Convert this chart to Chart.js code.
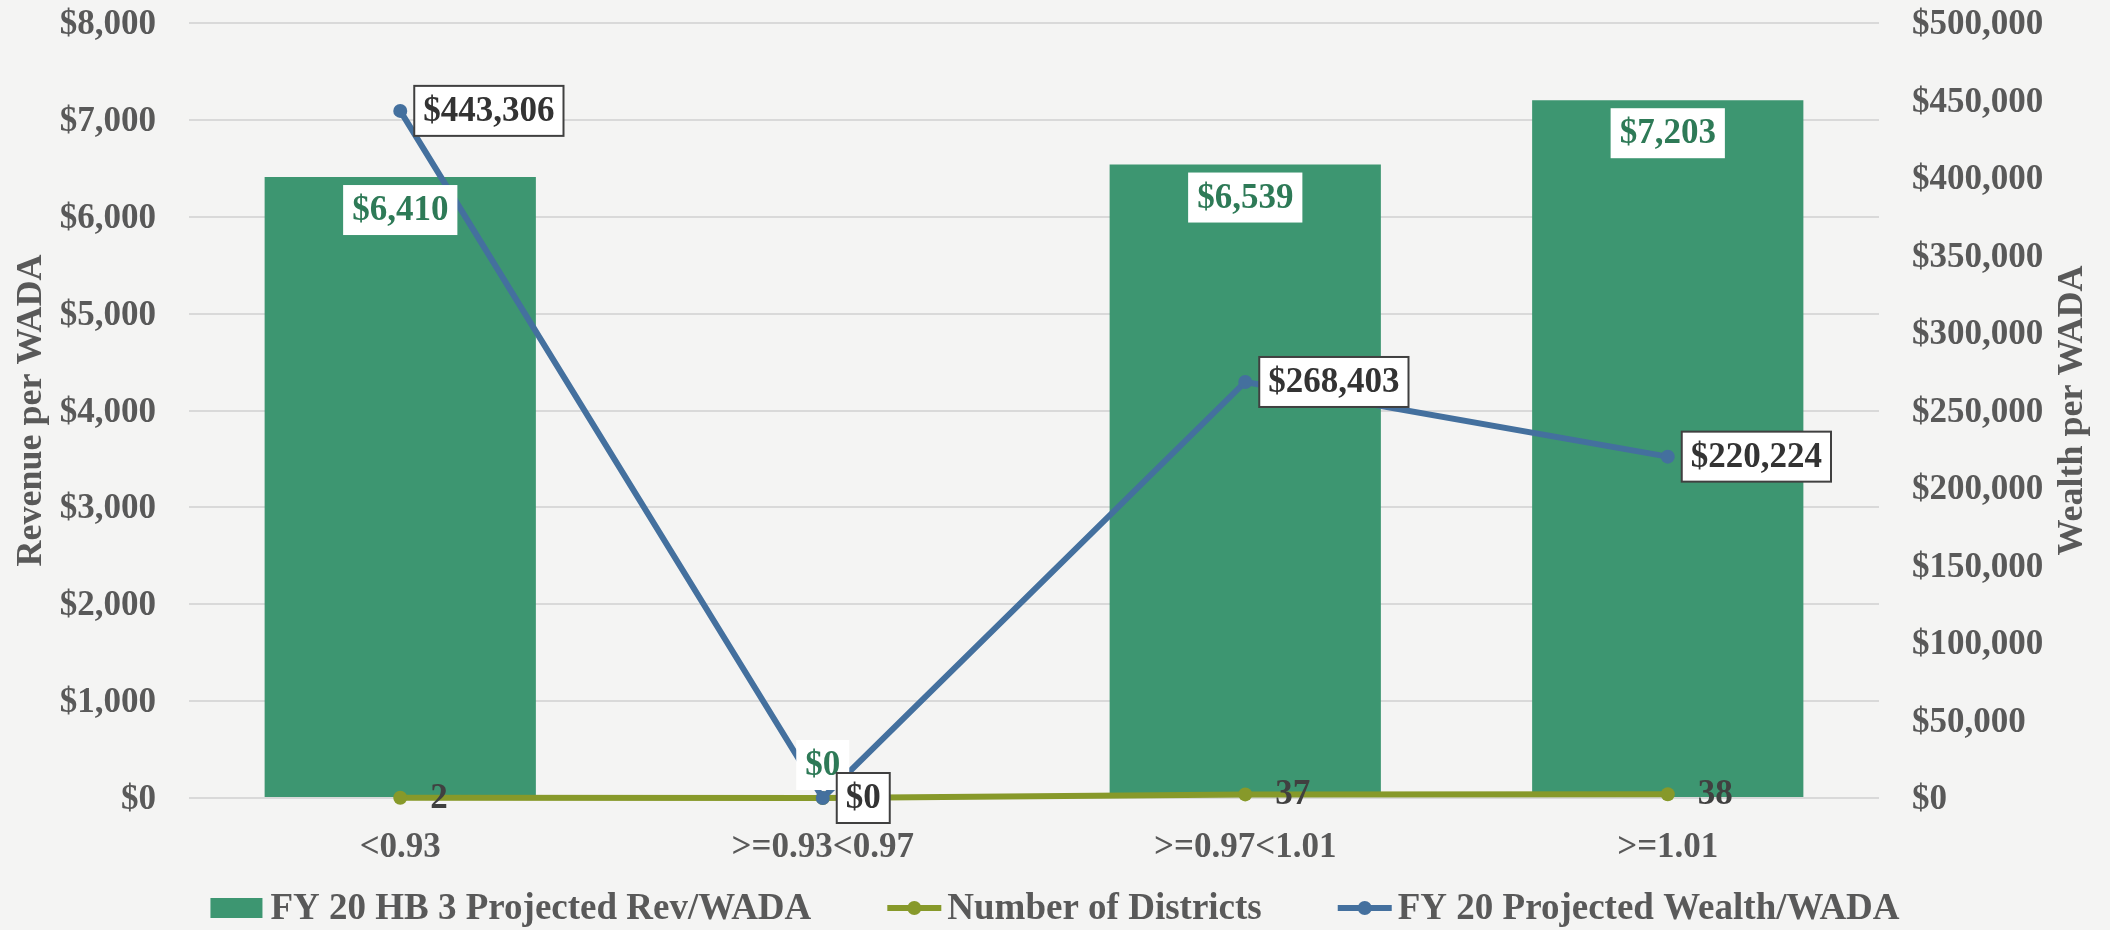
<!DOCTYPE html>
<html>
<head>
<meta charset="utf-8">
<script src="https://cdn.jsdelivr.net/npm/chart.js@4.4.0/dist/chart.umd.min.js"></script>
<style>
  html, body { margin: 0; padding: 0; background: #f4f4f3; }
  #wrap { width: 2110px; height: 930px; position: relative; }
</style>
</head>
<body>
<div id="wrap"><canvas id="chart"></canvas></div>
<script>
// ---------------- Datos ----------------
const categories = ['<0.93', '>=0.93<0.97', '>=0.97<1.01', '>=1.01'];
const revPerWada = [6410, 0, 6539, 7203];
const districtCounts = [2, 0, 37, 38];
const wealthPerWada = [443306, 0, 268403, 220224];

const revAxis = { min: 0, max: 8000, step: 1000, title: 'Revenue per WADA' };
const wealthAxis = { min: 0, max: 500000, step: 50000, title: 'Wealth per WADA' };

const seriesNames = ['FY 20 HB 3 Projected Rev/WADA', 'Number of Districts', 'FY 20 Projected Wealth/WADA'];
const seriesColors = ['#3d9671', '#87992a', '#44709e'];

// ---------------- Estilos ----------------
const FONT = "'Liberation Serif', 'Times New Roman', serif";
const GREY = '#595959';
const money = v => '$' + Number(v).toLocaleString('en-US');

// ---------------- Etiquetas de valores ----------------
const valueLabels = {
    id: 'valueLabels',
    afterDatasetsDraw(chart) {
        const ctx = chart.ctx;
        const base = chart.scales.y.getPixelForValue(0);
        ctx.save();
        ctx.font = `bold 35px ${FONT}`;
        ctx.textBaseline = 'middle';
        ctx.textAlign = 'left';

        // barras: cuadro blanco dentro del extremo
        chart.getDatasetMeta(0).data.forEach((bar, i) => {
            const txt = money(revPerWada[i]);
            const w = ctx.measureText(txt).width + 18, h = 50;
            let top = bar.y + 8;
            if (base - bar.y < h + 16) top = base - 33 - h / 2;
            ctx.fillStyle = '#ffffff';
            ctx.fillRect(bar.x - w / 2, top, w, h);
            ctx.fillStyle = '#2e7a57';
            ctx.fillText(txt, bar.x - w / 2 + 9, top + h / 2 + 1);
        });

        // número de distritos: texto a la derecha
        chart.getDatasetMeta(1).data.forEach((pt, i) => {
            ctx.fillStyle = '#404040';
            ctx.fillText(String(districtCounts[i]), pt.x + 30, pt.y + 1);
        });

        // riqueza: cuadro con borde
        chart.getDatasetMeta(2).data.forEach((pt, i) => {
            const txt = money(wealthPerWada[i]);
            const w = ctx.measureText(txt).width + 18, h = 50;
            const left = pt.x + 14, top = pt.y - h / 2;
            ctx.fillStyle = '#ffffff';
            ctx.fillRect(left, top, w, h);
            ctx.strokeStyle = '#404040';
            ctx.lineWidth = 2;
            ctx.strokeRect(left, top, w, h);
            ctx.fillStyle = '#333333';
            ctx.fillText(txt, left + 9, pt.y + 1);
        });
        ctx.restore();
    },
    afterDraw(chart) {
        const ctx = chart.ctx;
        const area = chart.chartArea;
        ctx.save();

        // título eje derecho, leído de abajo hacia arriba
        ctx.font = `bold 36px ${FONT}`;
        ctx.fillStyle = GREY;
        ctx.textAlign = 'center';
        ctx.textBaseline = 'middle';
        ctx.translate(chart.scales.y1.right - 37, (area.top + area.bottom) / 2);
        ctx.rotate(-Math.PI / 2);
        ctx.fillText(wealthAxis.title, 0, 0);
        ctx.restore();

        // leyenda
        ctx.save();
        ctx.font = `bold 37px ${FONT}`;
        ctx.textBaseline = 'middle';
        ctx.textAlign = 'left';
        const gap = 76, symW = 54, symGap = 6;
        const widths = seriesNames.map(n => symW + symGap + ctx.measureText(n).width);
        const total = widths.reduce((a, b) => a + b, 0) + gap * (widths.length - 1);
        let x = chart.width / 2 - total / 2;
        const y = 908;
        seriesNames.forEach((name, i) => {
            const color = seriesColors[i];
            if (i === 0) {
                ctx.fillStyle = color;
                ctx.fillRect(x, y - 10, symW - 2, 20);
            } else {
                ctx.strokeStyle = color;
                ctx.lineWidth = 6;
                ctx.beginPath();
                ctx.moveTo(x, y);
                ctx.lineTo(x + symW, y);
                ctx.stroke();
                ctx.fillStyle = color;
                ctx.beginPath();
                ctx.arc(x + symW / 2, y, 7, 0, Math.PI * 2);
                ctx.fill();
            }
            ctx.fillStyle = GREY;
            ctx.fillText(name, x + symW + symGap, y + 1);
            x += widths[i] + gap;
        });
        ctx.restore();
    }
};

// ---------------- Gráfica ----------------
const tickFont = { family: FONT, size: 35, weight: 'bold' };
const titleFont = { family: FONT, size: 36, weight: 'bold' };

new Chart(document.getElementById('chart'), {
    data: {
        labels: categories,
        datasets: [
            {
                type: 'bar',
                label: seriesNames[0],
                data: revPerWada,
                backgroundColor: seriesColors[0],
                yAxisID: 'y',
                barPercentage: 0.642,
                categoryPercentage: 1.0,
                order: 3
            },
            {
                type: 'line',
                label: seriesNames[1],
                data: districtCounts,
                borderColor: seriesColors[1],
                backgroundColor: seriesColors[1],
                pointBackgroundColor: seriesColors[1],
                borderWidth: 6,
                pointRadius: 7,
                pointBorderWidth: 0,
                tension: 0,
                clip: false,
                yAxisID: 'y',
                order: 2
            },
            {
                type: 'line',
                label: seriesNames[2],
                data: wealthPerWada,
                borderColor: seriesColors[2],
                backgroundColor: seriesColors[2],
                pointBackgroundColor: seriesColors[2],
                borderWidth: 6,
                pointRadius: 7,
                pointBorderWidth: 0,
                tension: 0,
                clip: false,
                yAxisID: 'y1',
                order: 1
            }
        ]
    },
    options: {
        responsive: true,
        maintainAspectRatio: false,
        animation: false,
        events: [],
        layout: { padding: { top: 23, left: 0, right: 0, bottom: 0 } },
        plugins: {
            legend: { display: false },
            tooltip: { enabled: false }
        },
        scales: {
            x: {
                grid: { display: false, drawTicks: false },
                border: { display: false },
                ticks: { color: GREY, font: tickFont, padding: 29, maxRotation: 0, autoSkip: false },
                afterFit: s => { s.height = 132; }
            },
            y: {
                position: 'left',
                min: revAxis.min,
                max: revAxis.max,
                grid: { color: '#d9d9d9', lineWidth: 2, drawTicks: false },
                border: { display: false },
                ticks: { stepSize: revAxis.step, color: GREY, font: tickFont, padding: 33, labelOffset: 2, callback: v => money(v) },
                title: { display: true, text: revAxis.title, color: GREY, font: titleFont, padding: { top: 10, bottom: 0 } },
                afterFit: s => { s.width = 189; s.paddingTop = 0; s.paddingBottom = 0; }
            },
            y1: {
                position: 'right',
                min: wealthAxis.min,
                max: wealthAxis.max,
                grid: { display: false, drawTicks: false },
                border: { display: false },
                ticks: { stepSize: wealthAxis.step, color: GREY, font: tickFont, padding: 33, labelOffset: 2, callback: v => money(v) },
                afterFit: s => { s.width = 231; s.paddingTop = 0; s.paddingBottom = 0; }
            }
        }
    },
    plugins: [valueLabels]
});
</script>
</body>
</html>
